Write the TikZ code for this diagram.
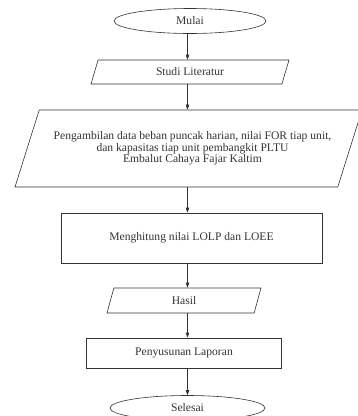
\documentclass[tikz,border=0pt]{standalone}
\usepackage{fontspec}
\setmainfont{Liberation Serif}
\usetikzlibrary{shapes.geometric,arrows.meta}
\definecolor{ink}{HTML}{333333}
\tikzset{
  base/.style={draw=ink, line width=0.6pt, text=ink, font=\fontsize{11.6}{11.4}\selectfont, inner sep=0pt, align=center},
  term/.style={base, ellipse, minimum width=152pt, minimum height=25pt},
  io/.style={base, trapezium, trapezium stretches body=true, minimum width=#1},
  proc/.style={base, rectangle},
  flow/.style={draw=ink, line width=0.6pt, -{Triangle[length=5pt,width=3.5pt]}}
}
\begin{document}
\begin{tikzpicture}[x=1pt,y=-1pt]
\useasboundingbox (0,0) rectangle (358,416);
\coordinate (axis) at (187.5,0);
\node[term] (mulai) at (190,21) {Mulai};
\node[io=198pt, minimum height=24pt, trapezium left angle=49, trapezium right angle=131] (studi) at (190,72) {Studi Literatur};
\node[io=347pt, minimum height=77pt, trapezium left angle=54, trapezium right angle=126] (data) at (188.5,148.5)
  {\hspace*{8pt}Pengambilan data beban puncak harian, nilai FOR tiap unit,\\\hspace*{8pt}dan kapasitas tiap unit pembangkit PLTU\\\hspace*{8pt}Embalut Cahaya Fajar Kaltim};
\node[proc, minimum width=261pt, minimum height=50pt] (hitung) at (191.5,238) {Menghitung nilai LOLP dan LOEE};
\node[io=154pt, minimum height=25pt, trapezium left angle=50, trapezium right angle=130] (hasil) at (184,300.5) {Hasil};
\node[proc, minimum width=195pt, minimum height=30pt] (lapor) at (184,353) {Penyusunan Laporan};
\node[term, minimum width=155pt] (selesai) at (187.5,408) {Selesai};
\draw[flow] (mulai.south -| axis) -- (studi.north -| axis);
\draw[flow] (studi.south -| axis) -- (data.north -| axis);
\draw[flow] (data.south -| axis) -- (hitung.north -| axis);
\draw[flow] (hitung.south -| axis) -- (hasil.north -| axis);
\draw[flow] (hasil.south -| axis) -- (lapor.north -| axis);
\draw[flow] (lapor.south -| axis) -- (selesai.north -| axis);
\end{tikzpicture}
\end{document}
